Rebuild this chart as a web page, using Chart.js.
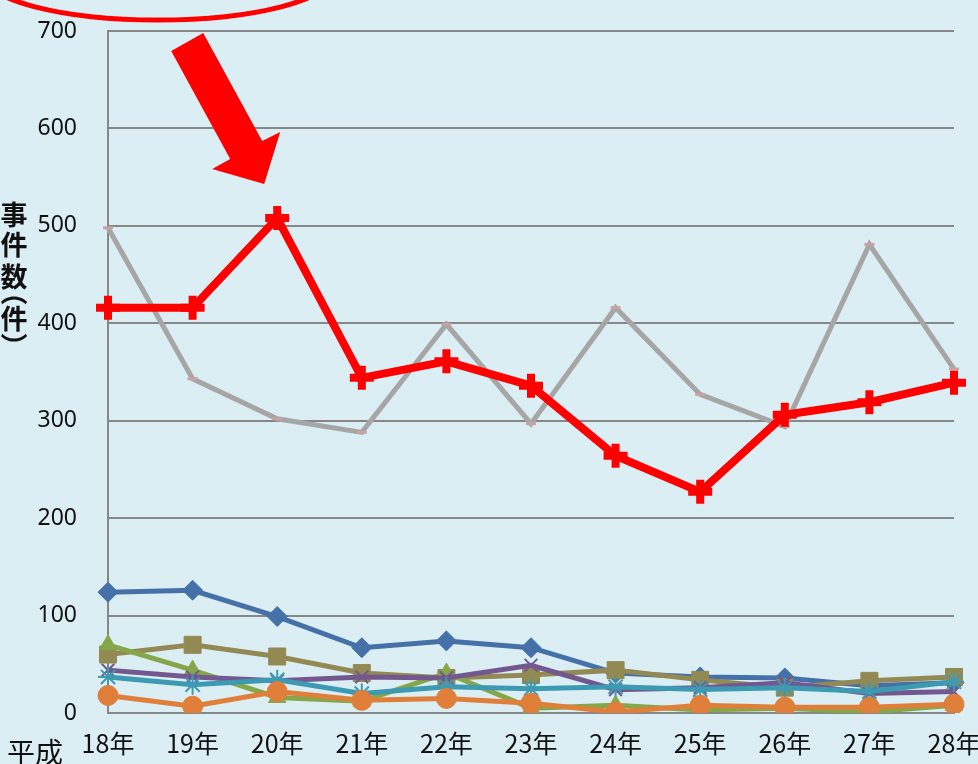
<!DOCTYPE html>
<html>
<head>
<meta charset="utf-8">
<script src="https://cdn.jsdelivr.net/npm/chart.js@4"></script>
<style>
  html, body { margin: 0; padding: 0; background: #dbeef4; }
  #wrap { width: 978px; height: 764px; position: relative; }
</style>
</head>
<body>
<div id="wrap"><canvas id="caseChart" width="978" height="764"></canvas></div>
<script>
const years = ['18年', '19年', '20年', '21年', '22年', '23年', '24年', '25年', '26年', '27年', '28年'];
const yTicks = [0, 100, 200, 300, 400, 500, 600, 700];

const redVals    = [416, 416, 508, 344, 361, 336, 264, 227, 306, 319, 339];
const grayVals   = [498, 343, 302, 288, 399, 297, 416, 327, 294, 481, 353];
const blueVals   = [124, 126, 99, 67, 74, 67, 41, 37, 36, 28, 31];
const oliveVals  = [60, 70, 58, 41, 36, 39, 44, 34, 26, 33, 37];
const greenVals  = [70, 44, 16, 12, 41, 5, 8, 3, 5, 1, 8];
const purpleVals = [44, 37, 33, 37, 36, 49, 24, 26, 31, 20, 22];
const tealVals   = [37, 29, 34, 20, 27, 25, 27, 24, 26, 22, 32];
const orangeVals = [18, 7, 22, 13, 15, 10, 1, 8, 6, 6, 9];

const bg = '#dbeef4';
const gridCol = '#878787';
const textCol = '#111';

function series(data, color, style, radius, lineW, extra) {
    return Object.assign({
        data: data,
        borderColor: color,
        backgroundColor: color,
        borderWidth: lineW,
        pointStyle: style,
        pointRadius: radius,
        pointBorderColor: color,
        pointBackgroundColor: color,
        pointBorderWidth: 1,
        tension: 0
    }, extra || {});
}

// annotations: y-axis title, 平成, red ellipse and arrow
const decor = {
    id: 'decor',
    beforeDraw(chart) {
        const c = chart.ctx;
        c.save();
        c.fillStyle = bg;
        c.fillRect(0, 0, chart.width, chart.height);
        c.restore();
    },
    afterDraw(chart) {
        const c = chart.ctx;
        const xs = chart.scales.x, ys = chart.scales.y;
        c.save();

        // vertical title, parens turned sideways
        c.fillStyle = textCol;
        c.font = 'bold 27px "Noto Sans CJK JP"';
        c.textAlign = 'center';
        c.textBaseline = 'middle';
        const chars = ['事', '件', '数', '（', '件', '）'];
        const ys0 = [215, 245, 277, 292, 319, 346];
        chars.forEach((ch, i) => {
            c.save();
            c.translate(14, ys0[i]);
            if (ch === '（' || ch === '）') c.rotate(Math.PI / 2);
            c.fillText(ch, 0, 0);
            c.restore();
        });

        c.font = '28px "Noto Sans CJK JP"';
        c.textAlign = 'left';
        c.fillText('平成', 7, 752);

        // ellipse at top
        c.strokeStyle = '#ff0000';
        c.lineWidth = 5;
        c.beginPath();
        c.ellipse(158, -25, 174, 45, 0, 0, Math.PI * 2);
        c.stroke();

        // arrow pointing at 20年
        const tx = xs.getPixelForValue(2) - 13;
        const ty = ys.getPixelForValue(543);
        const pts = [[-93, -133], [-61, -151], [-2, -43], [16, -52], [0, 0], [-52, -15], [-34, -25]];
        c.fillStyle = '#ff0000';
        c.beginPath();
        pts.forEach((p, i) => {
            if (i === 0) c.moveTo(tx + p[0], ty + p[1]);
            else c.lineTo(tx + p[0], ty + p[1]);
        });
        c.closePath();
        c.fill();
        c.restore();
    }
};

new Chart(document.getElementById('caseChart'), {
    type: 'line',
    data: {
        labels: years,
        datasets: [
            series(redVals, '#ff0000', 'cross', 12, 8, { pointBorderWidth: 8 }),
            series(grayVals, '#a6a6a6', 'line', 5, 5, { pointBorderColor: '#c9a3a3', pointBorderWidth: 3 }),
            series(orangeVals, '#e07f3a', 'circle', 10, 5),
            series(tealVals, '#3d9ab3', 'star', 10, 5, { pointBorderWidth: 2 }),
            series(purpleVals, '#73588f', 'crossRot', 9, 5, { pointBorderWidth: 2 }),
            series(greenVals, '#86a64a', 'triangle', 10, 5),
            series(oliveVals, '#938953', 'rect', 12, 5),
            series(blueVals, '#4570a8', 'rectRot', 10, 5)
        ]
    },
    options: {
        responsive: false,
        animation: false,
        layout: { padding: { left: 0, top: 31, right: 24, bottom: 0 } },
        plugins: { legend: { display: false }, tooltip: { enabled: false } },
        scales: {
            x: {
                offset: false,
                grid: { display: false, drawTicks: false },
                border: { color: gridCol, width: 2 },
                ticks: { color: textCol, font: { size: 25, family: '"Noto Sans CJK JP"' }, padding: 15, maxRotation: 0, autoSkip: false },
                afterFit(s) { s.height = 51; s.paddingLeft = 0; s.paddingRight = 0; }
            },
            y: {
                min: 0,
                max: 700,
                afterBuildTicks(s) { s.ticks = yTicks.map(v => ({ value: v })); },
                grid: { color: gridCol, lineWidth: 2, drawTicks: false },
                border: { color: gridCol, width: 2 },
                ticks: { color: textCol, font: { size: 23, family: '"Noto Sans"' }, padding: 31 },
                afterFit(s) { s.width = 108; s.paddingTop = 0; s.paddingBottom = 0; }
            }
        }
    },
    plugins: [decor]
});
</script>
</body>
</html>
